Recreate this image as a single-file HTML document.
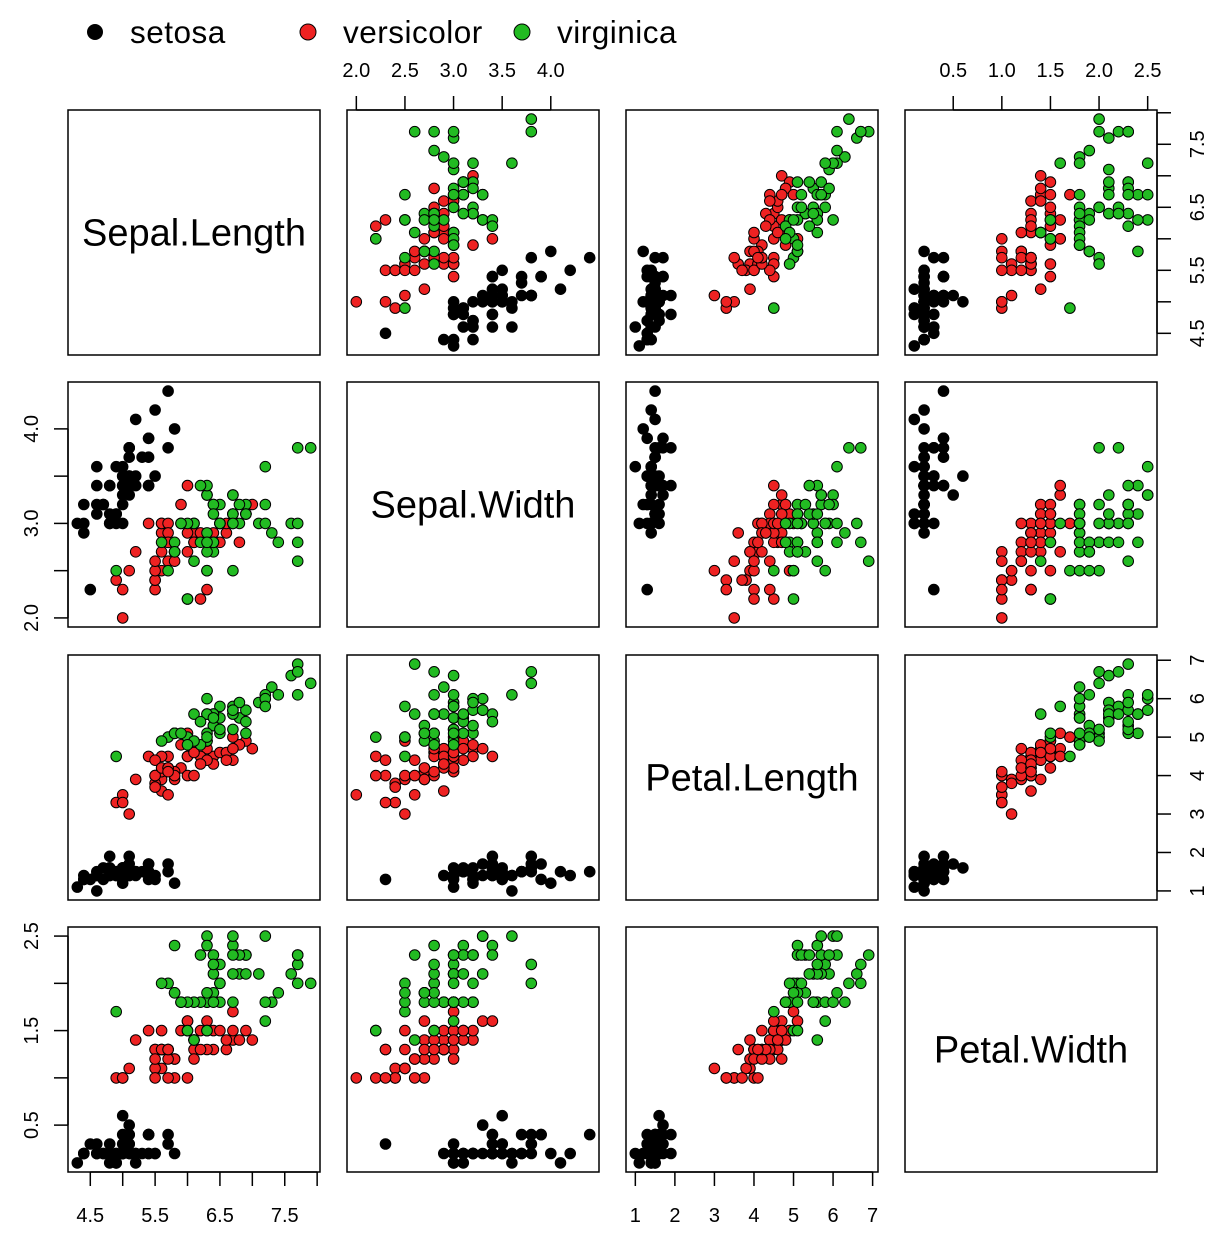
<!DOCTYPE html>
<html><head><meta charset="utf-8">
<style>
html,body{margin:0;padding:0;background:#fff;}
svg{display:block;font-family:"Liberation Sans",Arial,sans-serif;}
</style></head><body>
<svg id="s" width="1228" height="1240" xmlns="http://www.w3.org/2000/svg"></svg>
<script>
const raw=`5.1,3.5,1.4,0.2;4.9,3.0,1.4,0.2;4.7,3.2,1.3,0.2;4.6,3.1,1.5,0.2;5.0,3.6,1.4,0.2;5.4,3.9,1.7,0.4;4.6,3.4,1.4,0.3;5.0,3.4,1.5,0.2;4.4,2.9,1.4,0.2;4.9,3.1,1.5,0.1;5.4,3.7,1.5,0.2;4.8,3.4,1.6,0.2;4.8,3.0,1.4,0.1;4.3,3.0,1.1,0.1;5.8,4.0,1.2,0.2;5.7,4.4,1.5,0.4;5.4,3.9,1.3,0.4;5.1,3.5,1.4,0.3;5.7,3.8,1.7,0.3;5.1,3.8,1.5,0.3;5.4,3.4,1.7,0.2;5.1,3.7,1.5,0.4;4.6,3.6,1.0,0.2;5.1,3.3,1.7,0.5;4.8,3.4,1.9,0.2;5.0,3.0,1.6,0.2;5.0,3.4,1.6,0.4;5.2,3.5,1.5,0.2;5.2,3.4,1.4,0.2;4.7,3.2,1.6,0.2;4.8,3.1,1.6,0.2;5.4,3.4,1.5,0.4;5.2,4.1,1.5,0.1;5.5,4.2,1.4,0.2;4.9,3.1,1.5,0.2;5.0,3.2,1.2,0.2;5.5,3.5,1.3,0.2;4.9,3.6,1.4,0.1;4.4,3.0,1.3,0.2;5.1,3.4,1.5,0.2;5.0,3.5,1.3,0.3;4.5,2.3,1.3,0.3;4.4,3.2,1.3,0.2;5.0,3.5,1.6,0.6;5.1,3.8,1.9,0.4;4.8,3.0,1.4,0.3;5.1,3.8,1.6,0.2;4.6,3.2,1.4,0.2;5.3,3.7,1.5,0.2;5.0,3.3,1.4,0.2;
7.0,3.2,4.7,1.4;6.4,3.2,4.5,1.5;6.9,3.1,4.9,1.5;5.5,2.3,4.0,1.3;6.5,2.8,4.6,1.5;5.7,2.8,4.5,1.3;6.3,3.3,4.7,1.6;4.9,2.4,3.3,1.0;6.6,2.9,4.6,1.3;5.2,2.7,3.9,1.4;5.0,2.0,3.5,1.0;5.9,3.0,4.2,1.5;6.0,2.2,4.0,1.0;6.1,2.9,4.7,1.4;5.6,2.9,3.6,1.3;6.7,3.1,4.4,1.4;5.6,3.0,4.5,1.5;5.8,2.7,4.1,1.0;6.2,2.2,4.5,1.5;5.6,2.5,3.9,1.1;5.9,3.2,4.8,1.8;6.1,2.8,4.0,1.3;6.3,2.5,4.9,1.5;6.1,2.8,4.7,1.2;6.4,2.9,4.3,1.3;6.6,3.0,4.4,1.4;6.8,2.8,4.8,1.4;6.7,3.0,5.0,1.7;6.0,2.9,4.5,1.5;5.7,2.6,3.5,1.0;5.5,2.4,3.8,1.1;5.5,2.4,3.7,1.0;5.8,2.7,3.9,1.2;6.0,2.7,5.1,1.6;5.4,3.0,4.5,1.5;6.0,3.4,4.5,1.6;6.7,3.1,4.7,1.5;6.3,2.3,4.4,1.3;5.6,3.0,4.1,1.3;5.5,2.5,4.0,1.3;5.5,2.6,4.4,1.2;6.1,3.0,4.6,1.4;5.8,2.6,4.0,1.2;5.0,2.3,3.3,1.0;5.6,2.7,4.2,1.3;5.7,3.0,4.2,1.2;5.7,2.9,4.2,1.3;6.2,2.9,4.3,1.3;5.1,2.5,3.0,1.1;5.7,2.8,4.1,1.3;
6.3,3.3,6.0,2.5;5.8,2.7,5.1,1.9;7.1,3.0,5.9,2.1;6.3,2.9,5.6,1.8;6.5,3.0,5.8,2.2;7.6,3.0,6.6,2.1;4.9,2.5,4.5,1.7;7.3,2.9,6.3,1.8;6.7,2.5,5.8,1.8;7.2,3.6,6.1,2.5;6.5,3.2,5.1,2.0;6.4,2.7,5.3,1.9;6.8,3.0,5.5,2.1;5.7,2.5,5.0,2.0;5.8,2.8,5.1,2.4;6.4,3.2,5.3,2.3;6.5,3.0,5.5,1.8;7.7,3.8,6.7,2.2;7.7,2.6,6.9,2.3;6.0,2.2,5.0,1.5;6.9,3.2,5.7,2.3;5.6,2.8,4.9,2.0;7.7,2.8,6.7,2.0;6.3,2.7,4.9,1.8;6.7,3.3,5.7,2.1;7.2,3.2,6.0,1.8;6.2,2.8,4.8,1.8;6.1,3.0,4.9,1.8;6.4,2.8,5.6,2.1;7.2,3.0,5.8,1.6;7.4,2.8,6.1,1.9;7.9,3.8,6.4,2.0;6.4,2.8,5.6,2.2;6.3,2.8,5.1,1.5;6.1,2.6,5.6,1.4;7.7,3.0,6.1,2.3;6.3,3.4,5.6,2.4;6.4,3.1,5.5,1.8;6.0,3.0,4.8,1.8;6.9,3.1,5.4,2.1;6.7,3.1,5.6,2.4;6.9,3.1,5.1,2.3;5.8,2.7,5.1,1.9;6.8,3.2,5.9,2.3;6.7,3.3,5.7,2.5;6.7,3.0,5.2,2.3;6.3,2.5,5.0,1.9;6.5,3.0,5.2,2.0;6.2,3.4,5.4,2.3;5.9,3.0,5.1,1.8`;
const D=raw.replace(/\s/g,'').split(';').filter(s=>s).map(s=>s.split(',').map(Number));
const cols=['#000000','#ee2222','#22bb22'];
const PX=[68,347,626,905],PY=[110,382,655,927],W=252,H=245;
const R=[[4.3,7.9],[2.0,4.4],[1.0,6.9],[0.1,2.5]];
const names=['Sepal.Length','Sepal.Width','Petal.Length','Petal.Width'];
function mx(j,v){const[a,b]=R[j],p=(b-a)*0.04;return PX[j]+W*(v-a+p)/(b-a+2*p);}
function my(i,v){const[a,b]=R[i],p=(b-a)*0.04;return PY[i]+H-H*(v-a+p)/(b-a+2*p);}
let o='';
const lg=[[95,'setosa',0],[308,'versicolor',1],[522,'virginica',2]];
for(const[x,t,c]of lg){o+=`<circle cx="${x}" cy="32" r="8" fill="${cols[c]}" ${c?'stroke="#000" stroke-width="1"':''}/><text x="${x+35}" y="43" font-size="31.5" letter-spacing="0.5">${t}</text>`;}
for(let i=0;i<4;i++)for(let j=0;j<4;j++){
 o+=`<rect x="${PX[j]}" y="${PY[i]}" width="${W}" height="${H}" fill="none" stroke="#000" stroke-width="1.5"/>`;
 if(i==j){o+=`<text x="${PX[j]+W/2}" y="${PY[i]+H/2+13}" font-size="38" text-anchor="middle">${names[i]}</text>`;continue;}
 D.forEach((d,k)=>{o+=`<circle cx="${mx(j,d[j]).toFixed(1)}" cy="${my(i,d[i]).toFixed(1)}" r="5.3" fill="${cols[Math.floor(k/50)]}" stroke="#000" stroke-width="1"/>`;});
}
const T={0:{t:[4.5,5,5.5,6,6.5,7,7.5,8],l:[4.5,5.5,6.5,7.5]},1:{t:[2,2.5,3,3.5,4],l:[2,2.5,3,3.5,4],lside:[2,3,4]},2:{t:[1,2,3,4,5,6,7],l:[1,2,3,4,5,6,7]},3:{t:[0.5,1,1.5,2,2.5],l:[0.5,1,1.5,2,2.5],lside:[0.5,1.5,2.5]}};
const fmt=(v,k)=>k==2?String(v):v.toFixed(1);
function ax(side,k,idx){
 const t=T[k].t;const L=(side=='L'?(T[k].lside||T[k].l):T[k].l);
 if(side=='B'||side=='T'){
  const y0=side=='B'?PY[3]+H:PY[0],d=side=='B'?14:-14;
  const xs=t.map(v=>mx(idx,v));
  o+=`<line x1="${xs[0]}" y1="${y0}" x2="${xs[xs.length-1]}" y2="${y0}" stroke="#000" stroke-width="1.5"/>`;
  t.forEach(v=>{const x=mx(idx,v);o+=`<line x1="${x}" y1="${y0}" x2="${x}" y2="${y0+d}" stroke="#000" stroke-width="1.5"/>`;});
  L.forEach(v=>{const x=mx(idx,v);o+=`<text x="${x}" y="${side=='B'?1222:77}" font-size="20" text-anchor="middle">${fmt(v,k)}</text>`;});
 } else {
  const x0=side=='L'?PX[0]:PX[3]+W,d=side=='L'?-14:14;
  const ys=t.map(v=>my(idx,v));
  o+=`<line x1="${x0}" y1="${ys[0]}" x2="${x0}" y2="${ys[ys.length-1]}" stroke="#000" stroke-width="1.5"/>`;
  t.forEach(v=>{const y=my(idx,v);o+=`<line x1="${x0}" y1="${y}" x2="${x0+d}" y2="${y}" stroke="#000" stroke-width="1.5"/>`;});
  const lx=side=='L'?38:1204;
  L.forEach(v=>{const y=my(idx,v);o+=`<text transform="translate(${lx},${y}) rotate(-90)" font-size="20" text-anchor="middle">${fmt(v,k)}</text>`;});
 }
}
ax('T',1,1);ax('T',3,3);ax('B',0,0);ax('B',2,2);ax('L',1,1);ax('L',3,3);ax('R',0,0);ax('R',2,2);
document.getElementById('s').innerHTML=o;
</script>
</body></html>
